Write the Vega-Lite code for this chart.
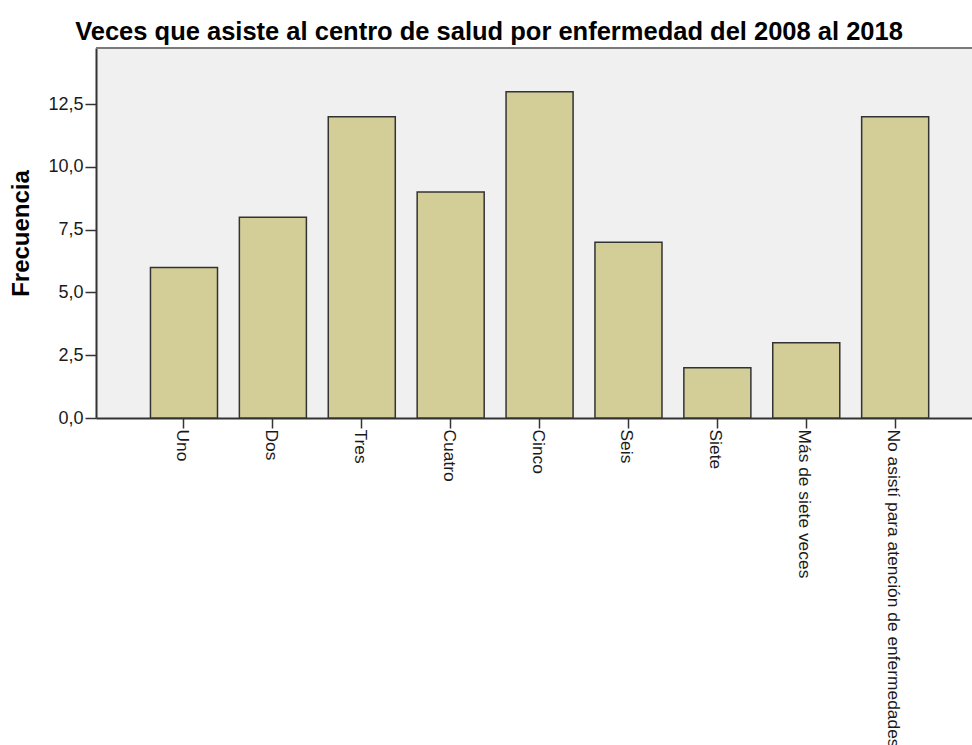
{
  "$schema": "https://vega.github.io/schema/vega-lite/v6.json",
  "autosize": {"type": "none"},
  "padding": {"left": 96, "top": 48, "right": 0, "bottom": 327},
  "width": 876,
  "height": 370,
  "background": "white",
  "config": {
    "view": {"stroke": null, "fill": "#f0f0f0"},
    "font": "Liberation Sans",
    "axis": {"grid": false}
  },
  "title": {
    "text": "Veces que asiste al centro de salud por enfermedad del 2008 al 2018",
    "font": "Liberation Sans",
    "fontSize": 25.5,
    "fontWeight": "bold",
    "color": "#000000",
    "anchor": "middle",
    "dx": -45,
    "offset": 2
  },
  "data": {
    "values": [
      {"categoria": "Uno", "frecuencia": 6},
      {"categoria": "Dos", "frecuencia": 8},
      {"categoria": "Tres", "frecuencia": 12},
      {"categoria": "Cuatro", "frecuencia": 9},
      {"categoria": "Cinco", "frecuencia": 13},
      {"categoria": "Seis", "frecuencia": 7},
      {"categoria": "Siete", "frecuencia": 2},
      {"categoria": "Más de siete veces", "frecuencia": 3},
      {"categoria": "No asistí para atención de enfermedades", "frecuencia": 12}
    ]
  },
  "layer": [
    {
      "mark": {"type": "bar", "fill": "#d3ce97", "stroke": "#333333", "strokeWidth": 1.5},
      "encoding": {
        "x": {
          "field": "categoria",
          "type": "nominal",
          "sort": null,
          "scale": {"paddingInner": 0.246, "paddingOuter": 0.55, "align": 0.557},
          "axis": {
            "title": null,
            "labelAngle": 90,
            "labelAlign": "left",
            "labelBaseline": "middle",
            "labelFontSize": 17.4,
            "labelColor": "#1a1a1a",
            "labelPadding": 1,
            "labelLimit": 400,
            "labelOffset": -2,
            "tickSize": 10,
            "tickColor": "#333333",
            "tickWidth": 1.5,
            "domainColor": "#333333",
            "domainWidth": 2
          }
        },
        "y": {
          "field": "frecuencia",
          "type": "quantitative",
          "scale": {"domain": [0, 14.74], "nice": false},
          "axis": {
            "title": "Frecuencia",
            "titleFontSize": 24,
            "titleFontWeight": "bold",
            "titleColor": "#000000",
            "titlePadding": 14,
            "values": [0, 2.5, 5, 7.5, 10, 12.5],
            "labelExpr": "replace(format(datum.value, '.1f'), '.', ',')",
            "labelFontSize": 18,
            "labelColor": "#1a1a1a",
            "labelPadding": 2,
            "tickSize": 11,
            "tickColor": "#333333",
            "tickWidth": 1.5,
            "domainColor": "#333333",
            "domainWidth": 2
          }
        }
      }
    },
    {
      "mark": {"type": "rule", "color": "#7a7a7a", "strokeWidth": 2},
      "encoding": {"y": {"datum": 14.74}}
    }
  ]
}
